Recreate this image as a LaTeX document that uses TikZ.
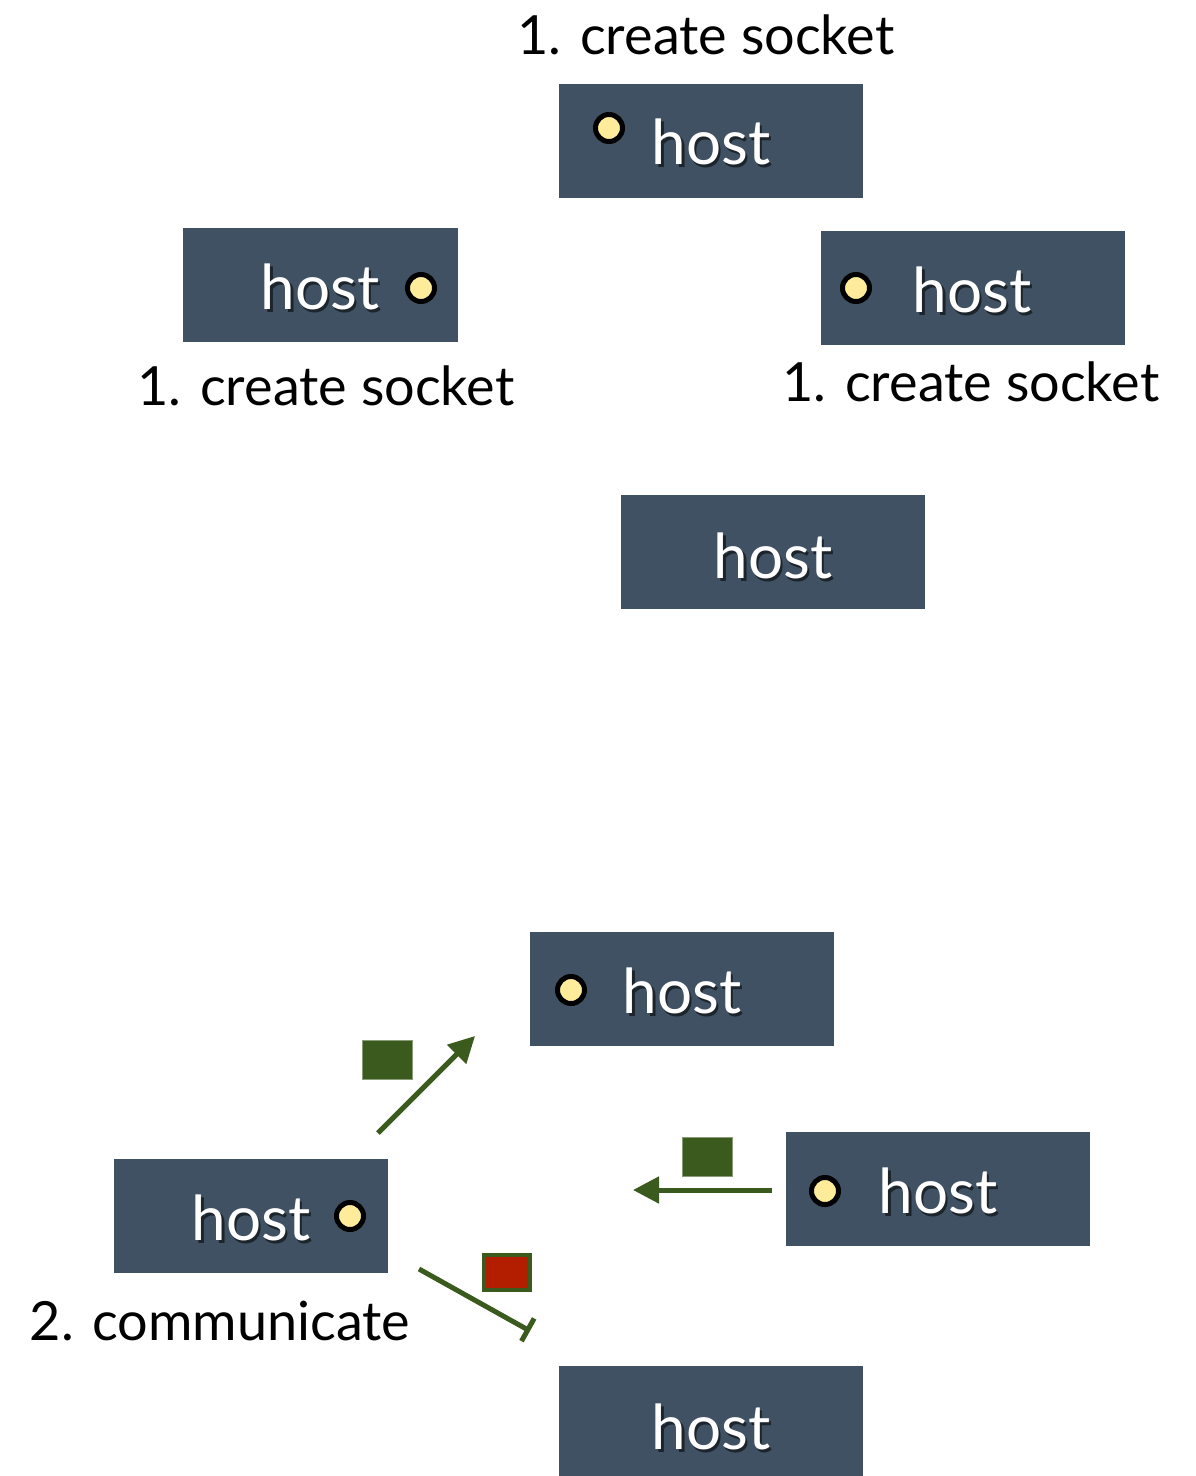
\documentclass[tikz,border=0pt]{standalone}
\usepackage{fontspec}
\setmainfont{Lato}
\usetikzlibrary{arrows.meta}
\definecolor{boxc}{HTML}{3F5162}
\definecolor{dotc}{HTML}{FFEC9A}
\definecolor{grn}{HTML}{3B5A1D}
\definecolor{redc}{HTML}{B41E00}
\newcommand\hostword{{\makebox[0pt][l]{\kern2.5pt\raisebox{-3pt}{\color{boxc!45!black}host}}host}}
\begin{document}
\begin{tikzpicture}[x=1pt,y=-1pt,
  hostbox/.style={fill=boxc, minimum width=304pt, minimum height=114pt, inner sep=0pt, anchor=north west},
  hosttxt/.style={text=white, font=\fontsize{62}{70}\selectfont, anchor=base, inner sep=0pt},
  dot/.style={circle, fill=dotc, draw=black, line width=5pt, minimum size=27pt, inner sep=0pt},
  lbl/.style={text=black, font=\fontsize{54}{62}\selectfont, anchor=base, inner sep=0pt},
  pkt/.style={fill=grn, draw=grn!60!white, line width=1pt, minimum width=50pt, minimum height=39pt, inner sep=0pt},
  badpkt/.style={fill=redc, draw=grn, line width=4pt, minimum width=46pt, minimum height=35pt, inner sep=0pt},
  flow/.style={draw=grn, line width=5pt, -{Triangle[length=26pt,width=26pt]}},
  blocked/.style={draw=grn, line width=5pt, -{Bar[width=26pt,line width=5pt]}}
]
\useasboundingbox (0,0) rectangle (1195,1476);
\fill[white] (0,0) rectangle (1195,1476);

% ---- top part ----
\node[lbl] (l1) at (706,54) {1. create socket};
\node[hostbox] (b1) at (559,84) {};
\node[dot] (d1) at (609,128) {};
\node[hosttxt] (t1) at (711,164) {\hostword};

\node[hostbox, minimum width=275pt] (b2) at (183,228) {};
\node[dot] (d2) at (421,288) {};
\node[hosttxt] (t2) at (320,309) {\hostword};
\node[lbl] (l2) at (326,405) {1. create socket};

\node[hostbox] (b3) at (821,231) {};
\node[dot] (d3) at (856,288) {};
\node[hosttxt] (t3) at (972,312) {\hostword};
\node[lbl] (l3) at (971,401) {1. create socket};

\node[hostbox] (b4) at (621,495) {};
\node[hosttxt] (t4) at (773,578) {\hostword};

% ---- bottom part ----
\node[hostbox] (b5) at (530,932) {};
\node[dot] (d5) at (571,990) {};
\node[hosttxt] (t5) at (682,1013) {\hostword};

\node[hostbox] (b6) at (786,1132) {};
\node[dot] (d6) at (825,1191) {};
\node[hosttxt] (t6) at (938,1213) {\hostword};

\node[hostbox, minimum width=274pt] (b7) at (114,1159) {};
\node[dot] (d7) at (350,1216) {};
\node[hosttxt] (t7) at (251,1240) {\hostword};
\node[lbl] (l7) at (220,1340) {2. communicate};

\node[hostbox] (b8) at (559,1366) {};
\node[hosttxt] (t8) at (711,1449) {\hostword};

% packets and flows
\coordinate (a1s) at (378,1133);
\coordinate (a1e) at (475,1036);
\draw[flow] (a1s) -- (a1e);
\node[pkt] (p1) at (387,1060) {};

\coordinate (a2s) at (772,1190);
\coordinate (a2e) at (633,1190);
\draw[flow] (a2s) -- (a2e);
\node[pkt] (p2) at (707,1157) {};

\coordinate (a3s) at (419,1269);
\coordinate (a3e) at (530,1331);
\draw[blocked] (a3s) -- (a3e);
\node[badpkt] (p3) at (507,1272) {};
\end{tikzpicture}
\end{document}
